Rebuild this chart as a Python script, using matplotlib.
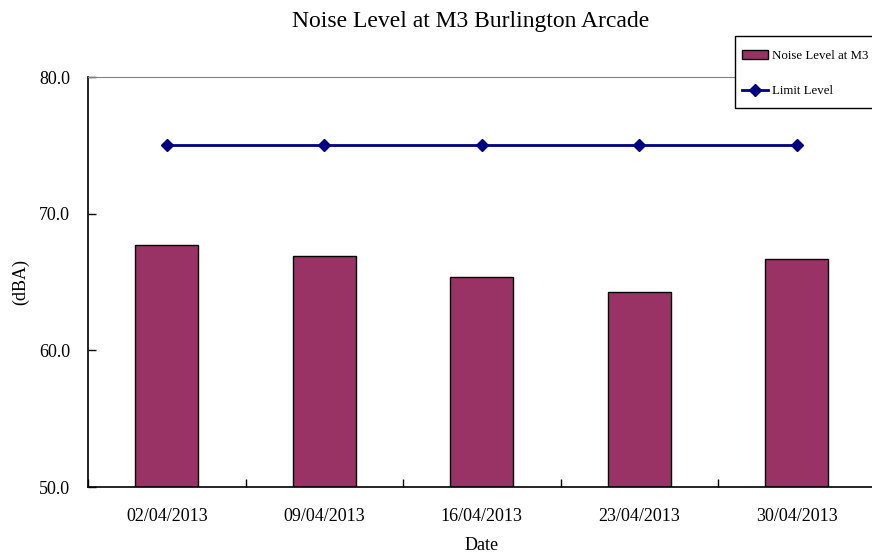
import numpy as np
import matplotlib.pyplot as plt
from matplotlib.patches import Rectangle

plt.rcParams['font.family'] = ['Liberation Serif', 'DejaVu Serif']

dates = ['02/04/2013', '09/04/2013', '16/04/2013', '23/04/2013', '30/04/2013']
noise = [67.7, 66.9, 65.4, 64.3, 66.7]
limit = [75.0, 75.0, 75.0, 75.0, 75.0]

W, H = 872, 558
fig = plt.figure(figsize=(8.72, 5.58), dpi=100)
ax = fig.add_axes([88/W, 71/H, 787.5/W, 410/H])

x = np.arange(len(dates))
bars = ax.bar(x, noise, width=0.4, color='#993366', edgecolor='black', linewidth=1,
              label='Noise Level at M3', zorder=2)
line, = ax.plot(x, limit, color='#000080', linewidth=2, marker='D', markersize=6,
                label='Limit Level', zorder=3)

ax.set_xlim(-0.5, len(dates) - 0.5)
ax.set_ylim(50, 80)
ax.set_yticks([50, 60, 70, 80])
ax.set_yticklabels(['%.1f' % v for v in [50, 60, 70, 80]], fontsize=13)
ax.set_xticks(x)
ax.set_xticklabels(dates, fontsize=13)
ax.set_xticks(np.arange(-0.5, len(dates), 1), minor=True)
ax.tick_params(axis='x', which='major', length=0, pad=15)
ax.tick_params(axis='x', which='minor', direction='in', length=6, width=1)
ax.tick_params(axis='y', direction='in', length=6, width=1, pad=13)

ax.spines['right'].set_visible(False)
ax.spines['top'].set_color('#808080')
ax.spines['left'].set_linewidth(1.2)
ax.spines['bottom'].set_linewidth(1.2)

ax.set_xlabel('Date', fontsize=13)
ax.xaxis.set_label_coords(0.5, -50/410)
ax.set_ylabel('(dBA)', fontsize=13)
ax.yaxis.set_label_coords(-59/787.5, 0.5)
fig.text(471/W, 1 - 21/H, 'Noise Level at M3 Burlington Arcade',
         fontsize=17, ha='center', va='center')

# legend box (frame drawn separately, it runs off the right edge)
fig.patches.append(Rectangle((735/W, 1 - 108/H), 150/W, 72/H, transform=fig.transFigure,
                             facecolor='white', edgecolor='black', linewidth=1, zorder=5))
leg = fig.legend([bars, line], ['Noise Level at M3', 'Limit Level'],
                 loc='upper left', bbox_to_anchor=(742/W, 1 - 50/H),
                 fontsize=9.3, frameon=False,
                 handlelength=2.05, labelspacing=1.8, borderpad=0,
                 handletextpad=0.3, borderaxespad=0)
leg.set_zorder(6)

fig.savefig('out.png', dpi=100)
